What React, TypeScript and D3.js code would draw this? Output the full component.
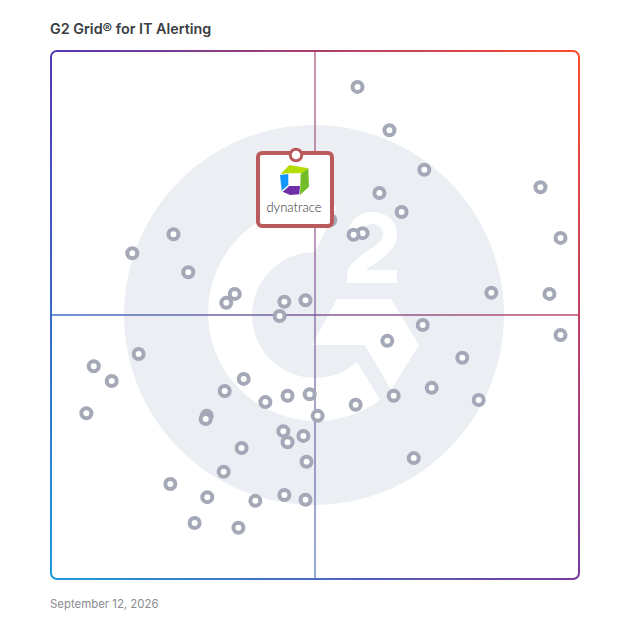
import React from "react";
import * as d3 from "d3";

// G2 scores, same order in both arrays
const satisfaction = [
  58.05, 64.1, 70.7, 62.2, 66.4, 52.9, 59.0, 57.3, 92.7, 96.5, 23.2, 15.4, 26.0, 34.8, 33.2,
  44.2, 48.2, 43.3, 83.4, 94.4, 70.4, 63.7, 96.5, 77.9, 16.6, 8.1, 11.5, 6.7, 36.5, 32.9,
  40.6, 44.8, 49.0, 57.7, 64.9, 72.1, 81.0, 29.5, 29.3, 50.5, 44.0, 47.8, 44.8, 36.1, 48.4,
  68.7, 32.7, 22.6, 29.6, 38.7, 44.2, 48.2, 27.2, 35.5,
];
const marketPresence = [
  93.2, 85.0, 77.5, 73.1, 69.5, 68.0, 65.5, 65.2, 74.2, 64.6, 65.3, 61.7, 58.1, 54.0, 52.3,
  52.5, 52.8, 49.8, 54.2, 54.0, 48.1, 45.1, 46.2, 41.9, 42.6, 40.3, 37.5, 31.4, 37.9, 35.6,
  33.5, 34.7, 35.0, 33.0, 34.7, 36.2, 33.9, 30.9, 30.3, 30.9, 28.0, 27.1, 25.9, 24.8, 22.2,
  22.9, 20.3, 18.0, 15.5, 14.8, 15.9, 15.0, 10.6, 9.7,
];
const highlightScore = { x: 46.4, y: 80.3 };

const title = "G2 Grid® for IT Alerting";
const dateLabel = "September 12, 2026";
const highlightName = "dynatrace";

const SIZE = 628;
const left = 51;
const right = 579;
const radius = 6;
const mid = (left + right) / 2;

const xScale = d3.scaleLinear().domain([0, 100]).range([left, right]);
const yScale = d3.scaleLinear().domain([0, 100]).range([right, left]);

// corner colours of the frame
const topLeft = "#5437b4";
const topRight = "#ff4a2a";
const bottomLeft = "#1c9ad8";
const bottomRight = "#7a3a9e";

const topEdge = d3.interpolateRgb(topLeft, topRight);
const bottomEdge = d3.interpolateRgb(bottomLeft, bottomRight);
const leftEdge = d3.interpolateRgb(topLeft, bottomLeft);
const rightEdge = d3.interpolateRgb(topRight, bottomRight);

function Gradient({ id, from, to, vertical, pos }: any) {
  return (
    <linearGradient
      id={id}
      gradientUnits="userSpaceOnUse"
      x1={vertical ? pos : left}
      y1={vertical ? left : pos}
      x2={vertical ? pos : right}
      y2={vertical ? right : pos}
    >
      <stop offset="0%" stopColor={from} />
      <stop offset="100%" stopColor={to} />
    </linearGradient>
  );
}

export default function App() {
  const ax = right - radius;
  const bx = left + radius;
  const ringColor = "#a4a8b7";
  const accent = "#bb5a5c";
  const hx = xScale(highlightScore.x);
  const hy = yScale(highlightScore.y);

  return (
    <svg
      width={SIZE}
      height={SIZE}
      viewBox={`0 0 ${SIZE} ${SIZE}`}
      style={{ position: "absolute", left: 0, top: 0, background: "#fff" }}
    >
      <defs>
        <Gradient id="g-top" from={topLeft} to={topRight} pos={left} />
        <Gradient id="g-bottom" from={bottomLeft} to={bottomRight} pos={right} />
        <Gradient id="g-left" from={topLeft} to={bottomLeft} pos={left} vertical />
        <Gradient id="g-right" from={topRight} to={bottomRight} pos={right} vertical />
        <Gradient id="g-h" from={leftEdge(0.5)} to={rightEdge(0.5)} pos={mid} />
        <Gradient id="g-v" from={topEdge(0.5)} to={bottomEdge(0.5)} pos={mid} vertical />
      </defs>

      <text x={50} y={34} fontFamily="Inter, sans-serif" fontSize={14.35} fontWeight={600} fill="#3a3d42">
        {title}
      </text>

      {/* G2 watermark */}
      <circle cx={xScale(50) - 1} cy={yScale(50)} r={190} fill="#ebeef2" />
      <path
        fill="#fff"
        d="M337 207 A108 108 0 1 0 380 400 L357 362 A63 63 0 1 1 315 252 Z"
      />
      <path fill="#fff" d="M337 299 L391 299 L419 345 L391 390 L365 345 L312 345 Z" />
      <path
        fill="#fff"
        d="M347 283 L347 270 C355 258 367 252 376 245 C381 241 383 238 383 234 C383 228 378 224 372 224 C366 224 362 229 362 236 L348 236 C348 222 358 212 372 212 C387 212 397 222 397 234 C397 246 390 252 381 259 C375 264 370 266 366 270 L397 270 L397 283 Z"
      />

      {/* quadrant lines */}
      <line x1={left} x2={right} y1={mid} y2={mid + 0.01} stroke="url(#g-h)" strokeWidth={1.6} opacity={0.95} />
      <line x1={mid} x2={mid + 0.01} y1={left} y2={right} stroke="url(#g-v)" strokeWidth={1.6} opacity={0.72} />

      {/* frame */}
      <g fill="none" strokeWidth={2}>
        <path d={`M${bx} ${left} H${ax} A${radius} ${radius} 0 0 1 ${right} ${bx}`} stroke="url(#g-top)" />
        <path d={`M${right} ${bx} V${ax} A${radius} ${radius} 0 0 1 ${ax} ${right}`} stroke="url(#g-right)" />
        <path d={`M${bx} ${right} H${ax}`} stroke="url(#g-bottom)" />
        <path d={`M${left} ${bx} V${ax} A${radius} ${radius} 0 0 0 ${bx} ${right}`} stroke="url(#g-left)" />
        <path d={`M${left} ${bx} A${radius} ${radius} 0 0 1 ${bx} ${left}`} stroke="url(#g-left)" />
      </g>

      {satisfaction.map((s, i) => (
        <circle
          key={i}
          cx={xScale(s)}
          cy={yScale(marketPresence[i])}
          r={5}
          fill="#fff"
          stroke={ringColor}
          strokeWidth={4}
        />
      ))}

      {/* highlighted vendor card */}
      <rect x={hx - 38} y={hy - 2} width={74} height={73} rx={4} fill="#fff" stroke={accent} strokeWidth={4} />
      <circle cx={hx} cy={hy} r={5.8} fill="#fff" stroke={accent} strokeWidth={3} />
      <polygon fill="#b4dc00" points="280.7,174 289.3,165 308.3,168.3 301.7,173.3 288.3,173.3" />
      <polygon fill="#73be28" points="308.3,168.3 309,186.7 300,195 300.7,174" />
      <polygon fill="#1496ff" points="280,175 288.3,174 288.3,185 281.7,190.7" />
      <polygon fill="#6f2da8" points="282.7,191.7 289.3,186 300,186 299.3,194.3 290,195" />
      <text
        x={hx - 2}
        y={212}
        textAnchor="middle"
        fontFamily="Lato, sans-serif"
        fontWeight={300}
        fontSize={13}
        fill="#333"
      >
        {highlightName}
      </text>

      <text x={50} y={608} fontFamily="Inter, sans-serif" fontSize={11.4} fill="#8a8c90">
        {dateLabel}
      </text>
    </svg>
  );
}
